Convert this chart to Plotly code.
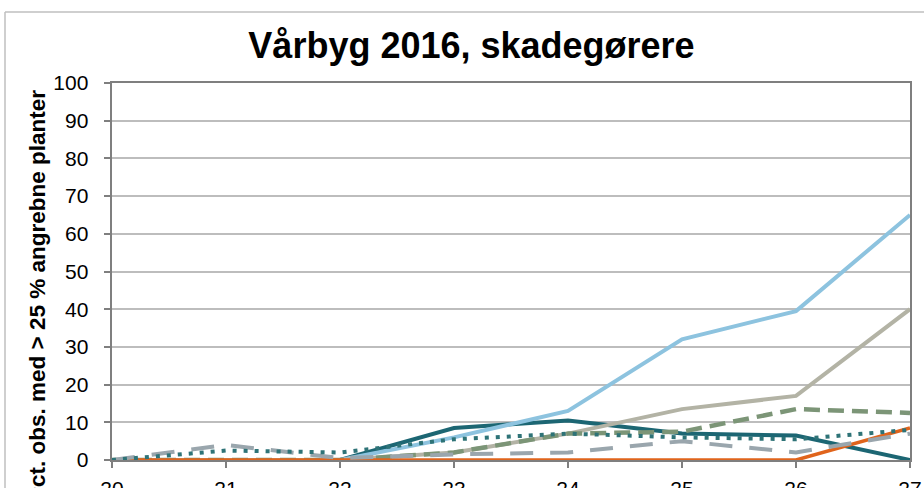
import plotly.graph_objects as go

weeks = [20, 21, 22, 23, 24, 25, 26, 27]
y_ticks = [0, 10, 20, 30, 40, 50, 60, 70, 80, 90, 100]

teal_solid = [0, 0, 0, 8.5, 10.5, 7, 6.5, 0]
light_blue = [0, 0, 0, 6, 13, 32, 39.5, 65]
beige = [0, 0, 0, 2, 7, 13.5, 17, 40]
green_dashed = [0, 0, 0, 2, 7, 7.5, 13.5, 12.5]
orange = [0, 0, 0, 0, 0, 0, 0, 8.5]
grey_dashed = [0, 4, 0.5, 1.5, 2, 5, 2, 7]
teal_dotted = [0, 2.5, 2, 5.5, 7, 6, 5.5, 8]

title_text = "Vårbyg 2016, skadegørere"
y_title = "Pct. obs. med > 25 % angrebne planter"

FONT = "Liberation Sans, Arial, sans-serif"

series = [
    (teal_solid, "#1C6673", "solid", 4),
    (light_blue, "#8DC3DF", "solid", 4),
    (beige, "#B3B3A5", "solid", 4),
    (green_dashed, "#7C9577", "16px,8px", 4.5),
    (orange, "#E0641C", "solid", 3.5),
    (grey_dashed, "#9AA6AD", "23px,17px", 4),
    (teal_dotted, "#2E7377", "4px,7px", 4),
]

fig = go.Figure()
for vals, col, dash, w in series:
    fig.add_trace(go.Scatter(
        x=weeks, y=vals, mode="lines",
        line=dict(color=col, width=w, dash=dash),
        showlegend=False, hoverinfo="skip", cliponaxis=False,
    ))

W, H = 924, 488
L, R, T, B = 112, 14, 83, 28
pw, ph = W - L - R, H - T - B

def px_x(p):
    return (p - L) / pw

def px_y(p):
    return (H - B - p) / ph

NB = "\u00a0\u00a0"

fig.update_layout(
    width=W, height=H,
    margin=dict(l=L, r=R, t=T, b=B, pad=0, autoexpand=False),
    paper_bgcolor="white", plot_bgcolor="white",
    font=dict(family=FONT, color="#000000", size=21),
    title=dict(text="<b>" + title_text + "</b>", x=471.5 / W, y=1 - 45 / H,
               xanchor="center", yanchor="middle", automargin=False,
               font=dict(family=FONT, size=36, color="#000000")),
    xaxis=dict(
        range=[20, 27], tickmode="array", tickvals=weeks,
        ticktext=[str(w) for w in weeks], automargin=False,
        showgrid=False, zeroline=False,
        showline=True, linecolor="#7F7F7F", linewidth=1.5, mirror=True,
        ticks="outside", ticklen=6, tickcolor="#7F7F7F", tickwidth=1.5,
        ticklabelstandoff=3,
        tickfont=dict(size=21, family=FONT, color="#000000"),
    ),
    yaxis=dict(
        range=[0, 100], tickmode="array", tickvals=y_ticks,
        ticktext=[str(v) + NB for v in y_ticks], automargin=False,
        showgrid=True, gridcolor="#BDBDBD", gridwidth=1.5, zeroline=False,
        showline=True, linecolor="#7F7F7F", linewidth=1.5, mirror=True,
        ticks="outside", ticklen=6, tickcolor="#7F7F7F", tickwidth=1.5,
        tickfont=dict(size=21, family=FONT, color="#000000"),
    ),
    annotations=[dict(
        text="<b>" + y_title + "</b>", textangle=-90,
        xref="paper", yref="paper", x=px_x(37), y=px_y(88),
        xanchor="center", yanchor="top", showarrow=False,
        font=dict(family=FONT, size=22.5, color="#000000"),
    )],
    shapes=[
        dict(type="line", xref="paper", yref="paper",
             x0=px_x(5), x1=px_x(940), y0=px_y(12), y1=px_y(12),
             line=dict(color="#BFBFBF", width=1.5)),
        dict(type="line", xref="paper", yref="paper",
             x0=px_x(5), x1=px_x(5), y0=px_y(12), y1=px_y(500),
             line=dict(color="#BFBFBF", width=1.5)),
    ],
)

fig.write_html("out.html",
               config={"displayModeBar": False},
               post_script="document.body.style.margin='0px';"
                           "document.body.style.overflow='hidden';")
